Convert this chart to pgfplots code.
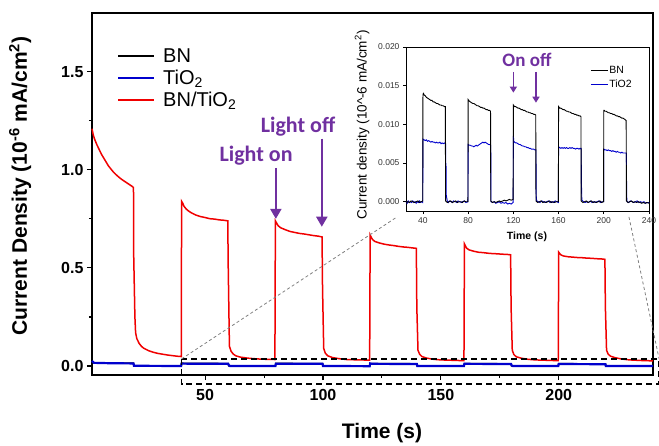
\documentclass[border=0pt]{standalone}
\usepackage{fontspec}
\setmainfont{Liberation Sans}
\newfontfamily\carlito{Carlito}
\usepackage{pgfplots}
\pgfplotsset{compat=1.18}
\usetikzlibrary{arrows.meta}
\definecolor{myred}{RGB}{240,0,0}
\definecolor{myblue}{RGB}{0,0,205}
\definecolor{purp}{RGB}{112,48,160}
\begin{document}
\begin{tikzpicture}
\useasboundingbox (-92pt,-70pt) rectangle (567pt,375pt);
\begin{axis}[
  at={(0pt,0pt)}, anchor=south west,
  scale only axis, width=561pt, height=362pt,
  xmin=2, xmax=240, ymin=-0.046, ymax=1.8,
  axis line style={line width=1.2pt},
  xtick={50,100,150,200}, ytick={0,0.5,1,1.5},
  minor x tick num=1, minor y tick num=1,
  xtick pos=bottom, ytick pos=left, tick align=outside,
  major tick length=5pt, minor tick length=3pt,
  every tick/.style={line width=1.1pt, black},
  /pgf/number format/assume math mode=true,
  xticklabel style={font=\bfseries\fontsize{16}{16}\selectfont, yshift=-6pt},
  yticklabel style={font=\bfseries\fontsize{16}{16}\selectfont, /pgf/number format/fixed, /pgf/number format/fixed zerofill, /pgf/number format/precision=1},
  xlabel={Time (s)},
  ylabel={Current Density (10\textsuperscript{-6} mA/cm\textsuperscript{2})},
  xlabel style={font=\bfseries\fontsize{21}{21}\selectfont, at={(axis description cs:0.517,-0.16)}, anchor=center},
  ylabel style={font=\bfseries\fontsize{21}{21}\selectfont, at={(axis description cs:-0.128,0.522)}, anchor=center},
  clip=false,
  legend style={at={(axis description cs:0.0446,0.908)}, anchor=north west, draw=none, fill=none, font=\fontsize{20}{22}\selectfont, row sep=2pt, inner sep=0pt, nodes={inner sep=2pt}, /tikz/every odd column/.append style={column sep=6pt}},
  legend cell align=left,
  legend image code/.code={\draw[#1,line width=2pt] (0pt,0pt) -- (36pt,0pt);},
]
\addlegendimage{black}\addlegendentry{BN}
\addlegendimage{myblue}\addlegendentry{TiO\textsubscript{2}}
\addlegendimage{myred}\addlegendentry{BN/TiO\textsubscript{2}}
% BN/TiO2
\addplot[myred, line width=1.5pt, forget plot] coordinates {
(2,1.21) (2.5,1.18) (3,1.16) (4,1.13) (5,1.105) (6,1.08) (7,1.06) (8,1.04) (9,1.02) (10,1.005) (11,0.99) (12,0.978) (13,0.967) (14,0.957) (15,0.948) (16,0.94) (17,0.932) (18,0.924) (19,0.916) (19.6,0.91)
(19.7,0.56) (20.2,0.25) (20.5,0.17) (21,0.14) (22,0.115) (23,0.1) (24,0.09) (26,0.078) (28,0.07) (30,0.064) (32,0.06) (34,0.056) (36,0.053) (38,0.05) (39.9,0.048)
(40,0.84) (40.5,0.83) (41,0.815) (42,0.8) (43,0.79) (44,0.782) (46,0.77) (48,0.762) (50,0.757) (52,0.751) (54,0.749) (56,0.745) (58,0.743) (59.6,0.74)
(59.8,0.5) (60.3,0.1) (61,0.075) (62,0.06) (63,0.052) (65,0.045) (68,0.04) (72,0.036) (76,0.034) (79.6,0.033)
(79.8,0.74) (80.5,0.725) (81,0.715) (82,0.705) (84,0.695) (86,0.686) (88,0.681) (90,0.676) (92,0.673) (94,0.669) (96,0.665) (98,0.662) (99.6,0.658)
(99.8,0.4) (100.3,0.09) (101,0.065) (102,0.052) (104,0.043) (107,0.037) (110,0.033) (115,0.031) (119.8,0.03)
(120,0.668) (120.5,0.655) (121,0.645) (122,0.635) (124,0.627) (126,0.621) (128,0.617) (130,0.614) (132,0.61) (134,0.607) (136,0.605) (138,0.602) (139.6,0.6)
(139.8,0.3) (140.3,0.08) (141,0.06) (142,0.048) (144,0.04) (147,0.034) (150,0.031) (155,0.029) (159.8,0.027)
(160,0.622) (160.5,0.61) (161,0.6) (162,0.592) (164,0.585) (166,0.58) (168,0.578) (170,0.575) (172,0.573) (174,0.572) (176,0.57) (178,0.569) (179.6,0.567)
(179.8,0.3) (180.3,0.08) (181,0.058) (182,0.047) (184,0.04) (187,0.034) (190,0.031) (195,0.029) (199.8,0.027)
(200,0.58) (200.5,0.572) (201,0.566) (202,0.561) (204,0.557) (206,0.555) (208,0.553) (210,0.552) (212,0.55) (214,0.549) (216,0.547) (218,0.546) (219.6,0.544)
(219.8,0.3) (220.3,0.08) (221,0.06) (222,0.05) (224,0.042) (227,0.035) (230,0.031) (235,0.028) (240,0.026)
};
% BN
\addplot[black, line width=1.5pt, forget plot] coordinates {
(2,0.016) (19.6,0.014) (19.8,0.001) (39.8,0.0) (40,0.014) (59.8,0.0123) (60,0.0) (79.8,0.0) (80,0.0132) (99.8,0.0117) (100,0.0) (119.8,0.0002) (120,0.0125) (139.8,0.0112) (140,0) (159.8,0) (160,0.0123) (179.8,0.011) (180,0) (199.8,0) (200,0.0118) (219.8,0.0105) (220,0) (240,-0.0002)
};
% TiO2
\addplot[myblue, line width=2.2pt, forget plot] coordinates {
(2,0.026) (2.5,0.019) (3,0.016) (10,0.014) (19.6,0.013) (19.8,0.001) (39.8,0) (40,0.012) (59.8,0.011) (60,0.005) (60.5,0.0) (79.8,0) (80,0.011) (99.8,0.011) (100,0) (119.8,-0.001) (120,0.013) (121,0.011) (139.8,0.010) (140,0) (159.8,0) (160,0.011) (179.8,0.010) (180,0.003) (180.5,0) (199.8,0) (200,0.010) (219.8,0.009) (220,0) (240,0)
};
% zoom rectangle and guide lines
\draw[line width=1.5pt, dash pattern=on 6pt off 4pt] (axis cs:40,0.036) rectangle (axis cs:242.6,-0.092);
\draw[gray, line width=0.8pt, dash pattern=on 3pt off 2.5pt] (axis cs:40,0.036) -- (axis cs:131.4,0.76);
\draw[gray, line width=0.8pt, dash pattern=on 3pt off 2.5pt] (axis cs:229.8,0.76) -- (axis cs:242.6,0.036);
% annotations
\draw[purp, line width=2pt, -{Triangle[width=11pt,length=10pt]}] (axis cs:80,1.01) -- (axis cs:80,0.75);
\draw[purp, line width=2pt, -{Triangle[width=11pt,length=10pt]}] (axis cs:99.5,1.16) -- (axis cs:99.5,0.71);
\node[purp, font=\carlito\bfseries\fontsize{22}{22}\selectfont] at (axis cs:71.6,1.071) {Light on};
\node[purp, font=\carlito\bfseries\fontsize{22}{22}\selectfont] at (axis cs:89.4,1.219) {Light off};
\end{axis}
\begin{axis}[
  at={(314pt,164pt)}, anchor=south west,
  scale only axis, width=243pt, height=164pt,
  xmin=25, xmax=240, ymin=-0.0012, ymax=0.020,
  axis background/.style={fill=white},
  axis line style={line width=0.8pt},
  xtick={40,80,120,160,200,240}, ytick={0,0.005,0.01,0.015,0.02},
  xtick pos=bottom, ytick pos=left, tick align=outside,
  major tick length=3pt,
  every tick/.style={line width=0.7pt, black},
  /pgf/number format/assume math mode=true,
  scaled y ticks=false,
  xticklabel style={font=\fontsize{8.5}{8.5}\selectfont, text=black!80},
  yticklabel style={font=\fontsize{8.5}{8.5}\selectfont, text=black!80, /pgf/number format/fixed, /pgf/number format/fixed zerofill, /pgf/number format/precision=3},
  xlabel={Time (s)},
  ylabel={Current density (10\textasciicircum-6 mA/cm\textsuperscript{2})},
  xlabel style={font=\bfseries\fontsize{10.5}{10.5}\selectfont, at={(axis description cs:0.498,-0.159)}, anchor=center},
  ylabel style={font=\fontsize{13.5}{13.5}\selectfont, at={(axis description cs:-0.181,0.524)}, anchor=center},
  clip=false,
  legend style={at={(axis description cs:0.757,0.89)}, anchor=north west, draw=none, fill=none, font=\fontsize{10.5}{11}\selectfont, row sep=3pt, inner sep=0pt, nodes={inner sep=1pt}},
  legend cell align=left,
  legend image code/.code={\draw[#1,line width=1.2pt] (0pt,0pt) -- (17pt,0pt);},
]
\addlegendimage{black}\addlegendentry{BN}
\addlegendimage{myblue}\addlegendentry{TiO2}
% TiO2
\addplot[myblue, line width=0.9pt, forget plot] coordinates {
(25,0.0000) (26,-0.0002) (27,0.0001) (28,-0.0001) (29,0.0000) (30,-0.0001) (31,0.0001) (32,-0.0001) (33,0.0000) (34,-0.0002) (35,0.0000) (36,-0.0001) (37,0.0001) (38,-0.0001) (39,0.0000) (39.8,-0.0001)
(40,0.0081) (41,0.0080) (42,0.0079) (43,0.0080) (44,0.0078) (45,0.0079) (46,0.0078) (47,0.0077) (48,0.0078) (49,0.0077) (50,0.0077) (51,0.0076) (52,0.0077) (53,0.0076) (54,0.0076) (55,0.0077) (56,0.0075) (57,0.0076) (58,0.0075) (59,0.0076) (60,0.0075)
(60.2,0.0050) (60.5,0.0045) (60.6,0.0009) (61.5,0.0001) (62.5,-0.0001) (63.5,0.0001) (65,0.0000) (66,-0.0001) (67,0.0001) (68.5,0.0000) (70,-0.0001) (71,0.0001) (72.5,0.0000) (74,-0.0001) (75,0.0000) (76.5,0.0001) (78,-0.0001) (79.8,0.0000)
(80,0.0074) (81,0.0073) (82,0.0073) (83,0.0072) (84,0.0072) (85,0.0071) (86,0.0072) (87,0.0073) (88,0.0072) (89,0.0073) (90,0.0074) (91,0.0075) (92,0.0076) (93,0.0077) (94,0.0076) (95,0.0077) (96,0.0076) (97,0.0075) (98,0.0074) (99,0.0074) (100,0.0073)
(100.2,0.0000) (101.5,-0.0001) (103,0.0000) (104.5,-0.0002) (106,-0.0001) (107.5,0.0000) (109,-0.0002) (110.5,-0.0001) (112,-0.0002) (113.5,-0.0001) (115,-0.0003) (116.5,-0.0002) (118,-0.0003) (119.8,-0.0001)
(120,0.0085) (120.4,0.0078) (121,0.0077) (122,0.0076) (123,0.0076) (124,0.0075) (125,0.0074) (126,0.0074) (127,0.0073) (128,0.0072) (129,0.0072) (130,0.0071) (131,0.0071) (132,0.0070) (133,0.0070) (134,0.0069) (135,0.0069) (136,0.0068) (137,0.0068) (138,0.0068) (139,0.0067) (140,0.0067)
(140.2,0.0008) (140.6,0.0001) (142,0.0000) (143.5,-0.0001) (145,0.0001) (146.5,0.0000) (148,-0.0001) (149.5,0.0000) (151,0.0001) (152.5,-0.0001) (154,0.0000) (155.5,-0.0001) (157,0.0001) (158.5,0.0000) (159.8,-0.0001)
(160,0.0071) (161,0.0070) (162,0.0069) (163,0.0070) (164,0.0069) (165,0.0070) (166,0.0069) (167,0.0070) (168,0.0069) (169,0.0069) (170,0.0070) (171,0.0069) (172,0.0070) (173,0.0069) (174,0.0069) (175,0.0068) (176,0.0069) (177,0.0069) (178,0.0068) (179,0.0069) (180,0.0069)
(180.2,0.0025) (180.6,0.0002) (182,0.0000) (183.5,-0.0001) (185,0.0000) (186.5,-0.0001) (188,0.0001) (189.5,-0.0001) (191,0.0000) (192.5,-0.0001) (194,0.0000) (195.5,0.0001) (197,-0.0001) (198.5,0.0000) (199.8,0.0000)
(200,0.0068) (201,0.0067) (202,0.0067) (203,0.0066) (204,0.0067) (205,0.0066) (206,0.0066) (207,0.0065) (208,0.0066) (209,0.0065) (210,0.0065) (211,0.0064) (212,0.0065) (213,0.0064) (214,0.0064) (215,0.0063) (216,0.0064) (217,0.0063) (218,0.0063) (219,0.0063) (220,0.0063)
(220.2,0.0008) (220.6,0.0000) (222,-0.0001) (223.5,0.0001) (225,0.0000) (226.5,-0.0001) (228,0.0000) (229.5,0.0001) (231,-0.0001) (232.5,0.0000) (234,-0.0001) (235.5,0.0000) (237,-0.0002) (238.5,-0.0001) (240,-0.0001)
};
% BN
\addplot[black, line width=0.9pt, forget plot] coordinates {
(25,-0.0001) (26.5,0.0000) (28,-0.0001) (29.5,0.0001) (31,0.0000) (32.5,-0.0001) (34,0.0000) (35.5,0.0001) (37,-0.0001) (38.5,0.0000) (39.8,0.0001)
(40,0.0139) (40.5,0.0140) (41,0.0138) (42,0.0137) (43,0.0135) (44,0.0134) (45,0.0133) (46,0.0132) (47,0.0131) (48,0.0131) (49,0.0129) (50,0.0129) (51,0.0128) (52,0.0127) (53,0.0127) (54,0.0126) (55,0.0125) (56,0.0125) (57,0.0124) (58,0.0124) (59,0.0123) (59.8,0.0123)
(60,0.0001) (61.5,-0.0001) (63,0.0000) (64.5,0.0001) (66,-0.0001) (67.5,0.0000) (69,0.0001) (70.5,-0.0001) (72,0.0000) (73.5,0.0000) (75,-0.0001) (76.5,0.0001) (78,0.0000) (79.8,0.0000)
(80,0.0132) (80.5,0.0131) (81,0.0130) (82,0.0129) (83,0.0128) (84,0.0127) (85,0.0127) (86,0.0126) (87,0.0125) (88,0.0124) (89,0.0124) (90,0.0123) (91,0.0122) (92,0.0122) (93,0.0121) (94,0.0121) (95,0.0120) (96,0.0119) (97,0.0119) (98,0.0118) (99,0.0118) (99.8,0.0117)
(100,0.0001) (101.5,-0.0001) (103,0.0000) (104.5,-0.0001) (106,0.0000) (107.5,0.0001) (109,0.0000) (110.5,0.0001) (112,0.0002) (113.5,0.0001) (115,0.0002) (116.5,0.0003) (118,0.0002) (119.8,0.0003)
(120,0.0125) (120.5,0.0124) (121,0.0123) (122,0.0123) (123,0.0122) (124,0.0121) (125,0.0121) (126,0.0120) (127,0.0119) (128,0.0119) (129,0.0118) (130,0.0118) (131,0.0117) (132,0.0116) (133,0.0116) (134,0.0115) (135,0.0115) (136,0.0114) (137,0.0114) (138,0.0113) (139,0.0113) (139.8,0.0112)
(140,0.0001) (141.5,-0.0001) (143,0.0000) (144.5,0.0001) (146,-0.0001) (147.5,0.0000) (149,-0.0001) (150.5,0.0000) (152,0.0001) (153.5,-0.0001) (155,0.0000) (156.5,-0.0001) (158,0.0000) (159.8,0.0000)
(160,0.0123) (160.5,0.0122) (161,0.0121) (162,0.0121) (163,0.0120) (164,0.0119) (165,0.0119) (166,0.0118) (167,0.0117) (168,0.0117) (169,0.0116) (170,0.0116) (171,0.0115) (172,0.0114) (173,0.0114) (174,0.0113) (175,0.0113) (176,0.0112) (177,0.0112) (178,0.0111) (179,0.0111) (179.8,0.0110)
(180,0.0001) (181.5,-0.0001) (183,0.0000) (184.5,0.0001) (186,-0.0001) (187.5,0.0000) (189,0.0001) (190.5,-0.0001) (192,0.0000) (193.5,-0.0001) (195,0.0000) (196.5,0.0001) (198,-0.0001) (199.8,0.0000)
(200,0.0118) (200.5,0.0118) (201,0.0117) (202,0.0117) (203,0.0116) (204,0.0115) (205,0.0115) (206,0.0114) (207,0.0114) (208,0.0113) (209,0.0113) (210,0.0112) (211,0.0111) (212,0.0111) (213,0.0110) (214,0.0110) (215,0.0109) (216,0.0108) (217,0.0108) (218,0.0107) (219,0.0106) (219.8,0.0105)
(220,0.0001) (221.5,-0.0001) (223,0.0000) (224.5,0.0001) (226,-0.0001) (227.5,0.0000) (229,-0.0001) (230.5,0.0000) (232,-0.0001) (233.5,-0.0002) (235,-0.0001) (236.5,-0.0002) (238,-0.0001) (240,-0.0002)
};
\draw[purp, line width=1.5pt, -{Triangle[width=7pt,length=6pt]}] (axis cs:120,0.0168) -- (axis cs:120,0.0141);
\draw[purp, line width=1.5pt, -{Triangle[width=7pt,length=6pt]}] (axis cs:140,0.0168) -- (axis cs:140,0.0128);
\node[purp, font=\carlito\bfseries\fontsize{19}{19}\selectfont] at (axis cs:132,0.0183) {On off};
\end{axis}
\end{tikzpicture}
\end{document}
